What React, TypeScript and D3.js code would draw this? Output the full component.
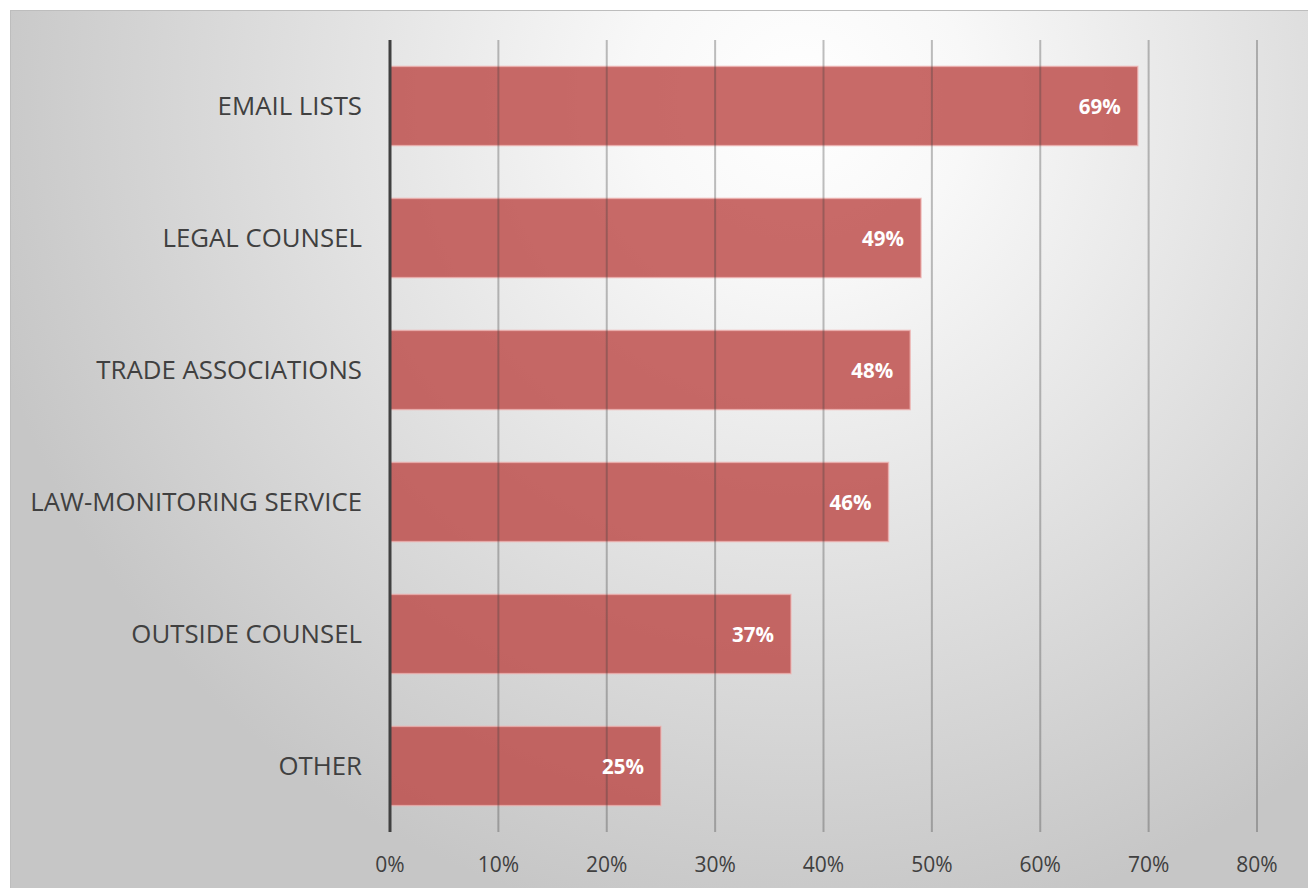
import React from "react";
import * as d3 from "d3";

const categories = ["EMAIL LISTS", "LEGAL COUNSEL", "TRADE ASSOCIATIONS", "LAW-MONITORING SERVICE", "OUTSIDE COUNSEL", "OTHER"];
const values = [0.69, 0.49, 0.48, 0.46, 0.37, 0.25];
const tickValues = [0, 0.1, 0.2, 0.3, 0.4, 0.5, 0.6, 0.7, 0.8];

const W = 1308;
const H = 888;
const left = 390;
const right = 1257;
const top = 40;
const bottom = 832;

export default function App() {
  const x = d3.scaleLinear().domain([0, 0.8]).range([left, right]);
  const y = d3.scaleBand<string>().domain(categories).range([top, bottom]).paddingInner(0.4).paddingOuter(0.2);
  const fmt = d3.format(".0%");
  const font = "'Open Sans', 'Noto Sans', sans-serif";
  return (
    <svg width={W} height={H} style={{ position: "absolute", left: 0, top: 0, display: "block" }}>
      <defs>
        <radialGradient id="bg" gradientUnits="userSpaceOnUse" cx={800} cy={100} r={840} fx={800} fy={100}>
          <stop offset="0" stopColor="#ffffff" />
          <stop offset="0.2" stopColor="#f8f8f8" />
          <stop offset="1" stopColor="#c6c6c6" />
        </radialGradient>
      </defs>
      <rect x={0} y={0} width={W} height={H} fill="#ffffff" />
      <rect x={10.5} y={10.5} width={1300} height={890} fill="url(#bg)" stroke="#bdbdbd" strokeWidth={1} />
      {categories.map((c, i) => (
        <g key={c}>
          <rect
            x={x(0)}
            y={y(c)!}
            width={x(values[i]) - x(0)}
            height={y.bandwidth()}
            fill="rgb(190,78,75)"
            fillOpacity={0.84}
            stroke="#f0b4b2"
            strokeOpacity={0.7}
            strokeWidth={1.5}
          />
        </g>
      ))}
      {tickValues.slice(1).map((t) => (
        <line key={t} x1={x(t)} x2={x(t)} y1={top} y2={bottom} stroke="rgba(60,60,60,0.33)" strokeWidth={2} />
      ))}
      <line x1={x(0)} x2={x(0)} y1={top} y2={bottom} stroke="#404040" strokeWidth={3} />
      {categories.map((c, i) => (
        <g key={c + "t"}>
          <text
            x={362}
            y={y(c)! + y.bandwidth() / 2 - 1}
            textAnchor="end"
            dominantBaseline="central"
            fontFamily={font}
            fontSize={25.8}
            fill="#404040"
          >
            {c}
          </text>
          <text
            x={x(values[i]) - 17}
            y={y(c)! + y.bandwidth() / 2}
            textAnchor="end"
            dominantBaseline="central"
            fontFamily={font}
            fontSize={20.5}
            fontWeight="bold"
            fill="#ffffff"
          >
            {fmt(values[i])}
          </text>
        </g>
      ))}
      {tickValues.map((t) => (
        <text
          key={"x" + t}
          x={x(t)}
          y={864}
          textAnchor="middle"
          dominantBaseline="central"
          fontFamily={font}
          fontSize={21}
          fill="#404040"
        >
          {fmt(t)}
        </text>
      ))}
    </svg>
  );
}
